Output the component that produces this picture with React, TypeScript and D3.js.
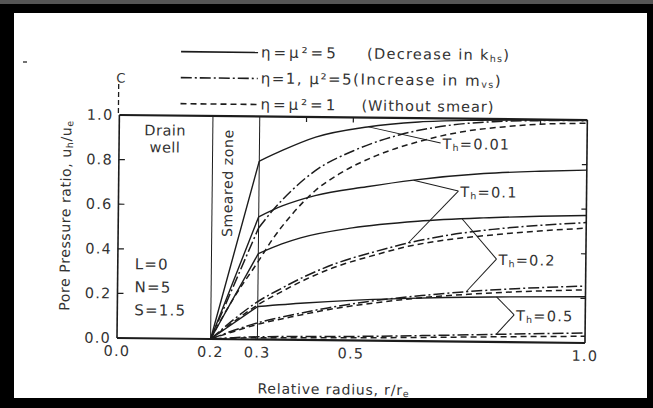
import React from "react";
import * as d3 from "d3";

type Pt = [number, number];

// ---------- data ----------
const xTickValues = [0.0, 0.2, 0.3, 0.5, 1.0];
const xTickLabels = ["0.0", "0.2", "0.3", "0.5", "1.0"];
const yTickValues = [0.0, 0.2, 0.4, 0.6, 0.8, 1.0];
const yTickLabels = ["0.0", "0.2", "0.4", "0.6", "0.8", "1.0"];
const topMinorTicks = [0.4, 0.5, 0.9];
const rightMinorTicks = [0.2, 0.4, 0.6, 0.8];
const zoneBounds = [0.2, 0.3];

// Th = 0.01
const th001Solid: Pt[] = [[0.2, 0], [0.3, 0.8], [0.35, 0.85], [0.42, 0.91], [0.53, 0.958], [0.64, 0.983], [0.75, 0.993], [0.88, 0.997], [1.0, 0.998]];
const th001DashDot: Pt[] = [[0.2, 0], [0.3, 0.5], [0.33, 0.58], [0.37, 0.67], [0.42, 0.76], [0.5, 0.85], [0.6, 0.925], [0.7, 0.968], [0.8, 0.988], [0.9, 0.995], [1.0, 0.997]];
const th001Dashed: Pt[] = [[0.2, 0], [0.22, 0.08], [0.25, 0.19], [0.3, 0.35], [0.33, 0.45], [0.37, 0.56], [0.42, 0.67], [0.47, 0.745], [0.55, 0.83], [0.64, 0.895], [0.73, 0.94], [0.82, 0.965], [0.91, 0.98], [1.0, 0.985]];
// Th = 0.1
const th01Solid: Pt[] = [[0.2, 0], [0.3, 0.55], [0.35, 0.6], [0.42, 0.648], [0.53, 0.69], [0.63, 0.722], [0.78, 0.755], [0.9, 0.768], [1.0, 0.775]];
const th01DashDot: Pt[] = [[0.2, 0], [0.25, 0.09], [0.3, 0.17], [0.35, 0.23], [0.4, 0.285], [0.46, 0.34], [0.55, 0.4], [0.62, 0.44], [0.7, 0.475], [0.8, 0.505], [0.9, 0.525], [1.0, 0.54]];
const th01Dashed: Pt[] = [[0.2, 0], [0.25, 0.08], [0.3, 0.155], [0.35, 0.215], [0.4, 0.27], [0.46, 0.325], [0.55, 0.385], [0.62, 0.425], [0.7, 0.455], [0.8, 0.48], [0.9, 0.5], [1.0, 0.515]];
// Th = 0.2
const th02Solid: Pt[] = [[0.2, 0], [0.3, 0.385], [0.35, 0.43], [0.39, 0.458], [0.5, 0.505], [0.64, 0.538], [0.78, 0.556], [0.9, 0.566], [1.0, 0.572]];
const th02DashDot: Pt[] = [[0.2, 0], [0.25, 0.04], [0.3, 0.075], [0.37, 0.11], [0.45, 0.145], [0.55, 0.18], [0.65, 0.205], [0.75, 0.225], [0.85, 0.24], [1.0, 0.255]];
const th02Dashed: Pt[] = [[0.2, 0], [0.25, 0.035], [0.3, 0.068], [0.37, 0.102], [0.45, 0.137], [0.55, 0.17], [0.65, 0.195], [0.75, 0.213], [0.85, 0.226], [1.0, 0.238]];
// Th = 0.5
const th05Solid: Pt[] = [[0.2, 0], [0.3, 0.148], [0.4, 0.166], [0.5, 0.18], [0.6, 0.19], [0.7, 0.197], [0.8, 0.202], [1.0, 0.207]];
const th05DashDot: Pt[] = [[0.2, 0], [0.3, 0.012], [0.5, 0.018], [0.7, 0.028], [0.85, 0.037], [1.0, 0.045]];
const th05Dashed: Pt[] = [[0.2, 0], [0.3, 0.008], [0.5, 0.012], [0.7, 0.019], [0.85, 0.025], [1.0, 0.03]];

const thLabels = ["0.01", "0.1", "0.2", "0.5"];
// label anchor (data units) and leader target x values on curves
const thLabelAnchor: Pt[] = [[0.687, 0.89], [0.726, 0.675], [0.809, 0.372], [0.848, 0.123]];
const thLeaderTargets: [string, number][][] = [
  [["th001Solid", 0.533]],
  [["th01Solid", 0.63], ["th01DashDot", 0.62]],
  [["th02Solid", 0.735], ["th02DashDot", 0.745]],
  [["th05Solid", 0.81], ["th05DashDot", 0.81]],
];

// ---------- layout ----------
const W = 653, H = 408;
const X0 = 117, X1 = 585, Y0 = 338, Y1 = 115;
const ROT = 0.61;
const INK = "#1c1c1c";
const TXT = "#333";
const FONT = "'DejaVu Sans', sans-serif";

const x = d3.scaleLinear().domain([0, 1]).range([X0, X1]);
const y = d3.scaleLinear().domain([0, 1]).range([Y0, Y1]);

type Kind = "solid" | "dashdot" | "dashed";
const seriesList: { id: string; pts: Pt[]; kind: Kind; linearTo?: number }[] = [
  { id: "th001Solid", pts: th001Solid, kind: "solid", linearTo: 0.3 },
  { id: "th001DashDot", pts: th001DashDot, kind: "dashdot", linearTo: 0.3 },
  { id: "th001Dashed", pts: th001Dashed, kind: "dashed" },
  { id: "th01Solid", pts: th01Solid, kind: "solid", linearTo: 0.3 },
  { id: "th01DashDot", pts: th01DashDot, kind: "dashdot" },
  { id: "th01Dashed", pts: th01Dashed, kind: "dashed" },
  { id: "th02Solid", pts: th02Solid, kind: "solid", linearTo: 0.3 },
  { id: "th02DashDot", pts: th02DashDot, kind: "dashdot" },
  { id: "th02Dashed", pts: th02Dashed, kind: "dashed" },
  { id: "th05Solid", pts: th05Solid, kind: "solid", linearTo: 0.3 },
  { id: "th05DashDot", pts: th05DashDot, kind: "dashdot" },
  { id: "th05Dashed", pts: th05Dashed, kind: "dashed" },
];
const dashOf: Record<Kind, string | undefined> = { solid: undefined, dashdot: "11,3,2,3", dashed: "6,4" };

const linLine = d3.line<Pt>().x((d) => x(d[0])).y((d) => y(d[1]));
const smoothLine = d3.line<Pt>().x((d) => x(d[0])).y((d) => y(d[1])).curve(d3.curveMonotoneX);

function pathFor(pts: Pt[], linearTo?: number): string {
  if (linearTo == null) return smoothLine(pts) || "";
  const a = pts.filter((p) => p[0] <= linearTo + 1e-9);
  const b = pts.filter((p) => p[0] >= linearTo - 1e-9);
  return (linLine(a) || "") + (smoothLine(b) || "");
}

function valueAt(pts: Pt[], xv: number): number {
  for (let i = 1; i < pts.length; i++) {
    if (xv <= pts[i][0]) {
      const [xa, ya] = pts[i - 1];
      const [xb, yb] = pts[i];
      return ya + ((yb - ya) * (xv - xa)) / (xb - xa);
    }
  }
  return pts[pts.length - 1][1];
}

const Sub = ({ children }: { children: string }) => (
  <tspan fontSize="9.5" dy="3">{children}</tspan>
);

export default function App() {
  const byId: Record<string, Pt[]> = {};
  seriesList.forEach((s) => (byId[s.id] = s.pts));

  const legendRows: { kind: Kind; yy: number }[] = [
    { kind: "solid", yy: 51 },
    { kind: "dashdot", yy: 77 },
    { kind: "dashed", yy: 103 },
  ];

  return (
    <svg width={W} height={H} viewBox={`0 0 ${W} ${H}`} style={{ display: "block", position: "absolute", left: 0, top: 0 }}>
      <rect x={0} y={0} width={W} height={H} fill="#000" />
      <rect x={0} y={0} width={W} height={4} fill="#555" />
      <rect x={14} y={13} width={633} height={385} fill="#fff" />
      <line x1={23} x2={27} y1={62} y2={62} stroke="#444" strokeWidth={1.5} />

      <g transform={`rotate(${ROT}, ${X0}, ${Y0})`} fontFamily={FONT} fill={TXT}>
        {/* zone boundaries */}
        {zoneBounds.map((b) => (
          <line key={b} x1={x(b)} x2={x(b)} y1={y(0)} y2={y(1)} stroke={INK} strokeWidth={1} />
        ))}

        {/* curves */}
        {seriesList.map((s) => (
          <path key={s.id} d={pathFor(s.pts, s.linearTo)} fill="none" stroke={INK}
            strokeWidth={s.kind === "solid" ? 1.4 : 1.5} strokeDasharray={dashOf[s.kind]} />
        ))}

        {/* frame */}
        <line x1={x(0)} x2={x(1)} y1={y(1)} y2={y(1)} stroke={INK} strokeWidth={2.2} />
        <line x1={x(0)} x2={x(1)} y1={y(0)} y2={y(0)} stroke={INK} strokeWidth={2.2} />
        <line x1={x(0)} x2={x(0)} y1={y(0)} y2={y(1)} stroke={INK} strokeWidth={1.6} />
        <line x1={x(1)} x2={x(1)} y1={y(0)} y2={y(1)} stroke={INK} strokeWidth={1.6} />

        {/* ticks */}
        {yTickValues.slice(1, -1).map((v) => (
          <line key={"yl" + v} x1={x(0)} x2={x(0) + 6} y1={y(v)} y2={y(v)} stroke={INK} strokeWidth={1.2} />
        ))}
        {rightMinorTicks.map((v) => (
          <line key={"yr" + v} x1={x(1)} x2={x(1) - 5} y1={y(v)} y2={y(v)} stroke={INK} strokeWidth={1.2} />
        ))}
        {topMinorTicks.map((v) => (
          <line key={"xt" + v} x1={x(v)} x2={x(v)} y1={y(1)} y2={y(1) + 5} stroke={INK} strokeWidth={1.2} />
        ))}

        {/* tick labels */}
        {yTickValues.map((v, i) => (
          <text key={"ytl" + v} x={x(0) - 6} y={y(v)} textAnchor="end" dominantBaseline="central" fontSize={14.5} letterSpacing={1.2}>
            {yTickLabels[i]}
          </text>
        ))}
        {xTickValues.map((v, i) => (
          <text key={"xtl" + v} x={x(v)} y={y(0) + 13} textAnchor="middle" dominantBaseline="central" fontSize={14.5} letterSpacing={1.2}>
            {xTickLabels[i]}
          </text>
        ))}

        {/* axis titles */}
        <text x={334} y={387} textAnchor="middle" dominantBaseline="central" fontSize={14} letterSpacing={0.8}>
          Relative radius, r/r<Sub>e</Sub>
        </text>
        <text transform="translate(64,216) rotate(-90)" textAnchor="middle" dominantBaseline="central" fontSize={14} letterSpacing={0.6}>
          Pore Pressure ratio, u<Sub>h</Sub><tspan dy="-3">/u</tspan><Sub>e</Sub>
        </text>

        {/* region labels */}
        <text x={163} y={130} textAnchor="middle" dominantBaseline="central" fontSize={14.5} letterSpacing={0.5}>Drain</text>
        <text x={163} y={147} textAnchor="middle" dominantBaseline="central" fontSize={14.5} letterSpacing={0.5}>well</text>
        <text transform="translate(226,182) rotate(-90)" textAnchor="middle" dominantBaseline="central" fontSize={14} letterSpacing={0.6}>
          Smeared zone
        </text>
        {["L=0", "N=5", "S=1.5"].map((t, i) => (
          <text key={t} x={134} y={264 + i * 23} dominantBaseline="central" fontSize={15} letterSpacing={1.2}>{t}</text>
        ))}

        {/* centre line symbol */}
        <text x={118} y={78} textAnchor="middle" dominantBaseline="central" fontSize={13}>C</text>
        <line x1={116} x2={116} y1={84} y2={Y1} stroke={INK} strokeWidth={1.3} strokeDasharray="5,3" />

        {/* legend */}
        {legendRows.map((r) => (
          <line key={r.kind} x1={178} x2={255} y1={r.yy} y2={r.yy} stroke={INK} strokeWidth={1.6} strokeDasharray={dashOf[r.kind]} />
        ))}
        <text x={258} y={51} dominantBaseline="central" fontSize={15} letterSpacing={3}>η=μ²=5</text>
        <text x={364} y={51} dominantBaseline="central" fontSize={14.5} letterSpacing={1.3}>
          (Decrease in k<Sub>hs</Sub><tspan dy="-3">)</tspan>
        </text>
        <text x={258} y={77} dominantBaseline="central" fontSize={15} letterSpacing={1.5}>
          η=1, μ²=5(Increase in m<Sub>vs</Sub><tspan dy="-3">)</tspan>
        </text>
        <text x={258} y={103} dominantBaseline="central" fontSize={15} letterSpacing={3}>η=μ²=1</text>
        <text x={359} y={103} dominantBaseline="central" fontSize={14.5} letterSpacing={1}>(Without smear)</text>

        {/* Th annotations */}
        {thLabels.map((lab, i) => {
          const [ax, ay] = thLabelAnchor[i];
          const px = x(ax), py = y(ay);
          return (
            <g key={lab}>
              {thLeaderTargets[i].map(([sid, tx], j) => (
                <line key={j} x1={px} y1={py} x2={x(tx)} y2={y(valueAt(byId[sid], tx))} stroke={INK} strokeWidth={1} />
              ))}
              <text x={px + 2} y={py + 1} dominantBaseline="central" fontSize={14.5} letterSpacing={1.2}>
                T<Sub>h</Sub><tspan dy="-3">={lab}</tspan>
              </text>
            </g>
          );
        })}
      </g>
    </svg>
  );
}
